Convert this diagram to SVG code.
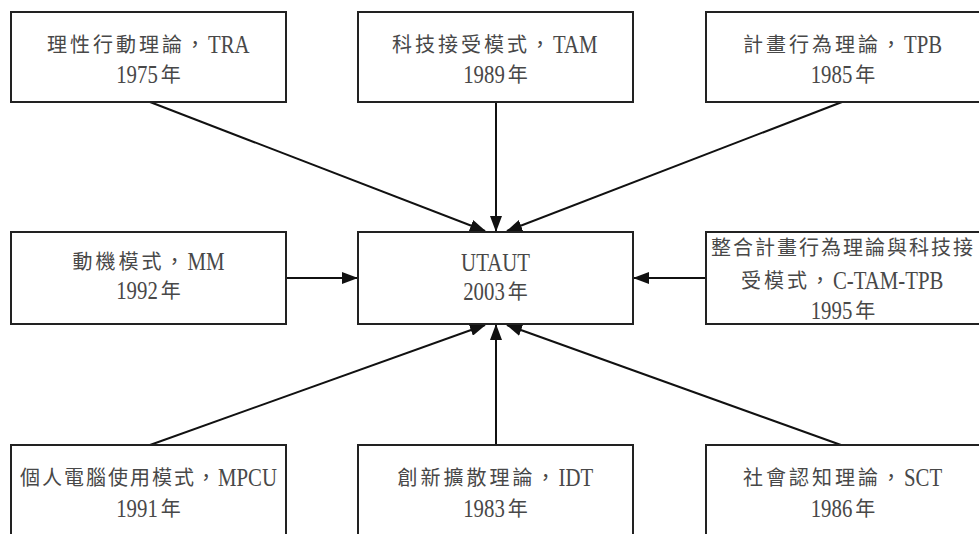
<svg xmlns="http://www.w3.org/2000/svg" width="979" height="534" viewBox="0 0 979 534">
<style>
.box{fill:#fff;stroke:#222;stroke-width:2}
.l{font-family:"Liberation Serif",serif;font-size:26px;fill:#484848}
.k{font-family:"Noto Sans CJK TC","Noto Sans CJK SC",sans-serif;font-size:20px;letter-spacing:3px;fill:#484848}
.e{text-anchor:end}
.m{text-anchor:middle}
.ln{stroke:#111;stroke-width:2;fill:none;marker-end:url(#ah)}
</style>
<defs>
<marker id="ah" markerUnits="userSpaceOnUse" markerWidth="16" markerHeight="12" refX="15" refY="6" orient="auto" viewBox="0 0 16 12">
<path d="M0,0 L16,6 L0,12 z" fill="#111"/>
</marker>
</defs>
<g id="connectors">
<line class="ln" x1="150" y1="102" x2="485" y2="231"/>
<line class="ln" x1="496" y1="102" x2="496" y2="231"/>
<line class="ln" x1="842" y1="102" x2="507" y2="231"/>
<line class="ln" x1="286" y1="278" x2="357" y2="278"/>
<line class="ln" x1="706" y1="278" x2="634" y2="278"/>
<line class="ln" x1="150" y1="445" x2="485" y2="325"/>
<line class="ln" x1="496" y1="445" x2="496" y2="325"/>
<line class="ln" x1="841" y1="445" x2="507" y2="325"/>
</g>
<g id="tra">
<rect class="box" x="11" y="12" width="275" height="90"/>
<text class="k e" x="208" y="52">理性行動理論，</text>
<text class="l" transform="translate(208,53) scale(0.8,1)">TRA</text>
<text class="l e" transform="translate(157.8,83) scale(0.8,1)">1975</text>
<text class="k" x="160.8" y="82">年</text>
</g>
<g id="tam">
<rect class="box" x="358" y="12" width="275" height="90"/>
<text class="k e" x="553" y="52">科技接受模式，</text>
<text class="l" transform="translate(553,53) scale(0.8,1)">TAM</text>
<text class="l e" transform="translate(504.8,83) scale(0.8,1)">1989</text>
<text class="k" x="507.8" y="82">年</text>
</g>
<g id="tpb">
<rect class="box" x="706" y="12" width="276" height="90"/>
<text class="k e" x="904" y="52">計畫行為理論，</text>
<text class="l" transform="translate(904,53) scale(0.8,1)">TPB</text>
<text class="l e" transform="translate(852.3,83) scale(0.8,1)">1985</text>
<text class="k" x="855.3" y="82">年</text>
</g>
<g id="mm">
<rect class="box" x="11" y="232" width="275" height="92"/>
<text class="k e" x="187.5" y="269">動機模式，</text>
<text class="l" transform="translate(187.5,270) scale(0.8,1)">MM</text>
<text class="l e" transform="translate(157.8,299) scale(0.8,1)">1992</text>
<text class="k" x="160.8" y="298">年</text>
</g>
<g id="utaut">
<rect class="box" x="358" y="232" width="275" height="92"/>
<text class="l m" transform="translate(495.5,271) scale(0.8,1)">UTAUT</text>
<text class="l e" transform="translate(504.8,300) scale(0.8,1)">2003</text>
<text class="k" x="507.8" y="299">年</text>
</g>
<g id="ctamtpb">
<rect class="box" x="706" y="232" width="276" height="92"/>
<text class="k m" x="843" y="255" style="letter-spacing:2px">整合計畫行為理論與科技接</text>
<text class="k e" x="833" y="288">受模式，</text>
<text class="l" transform="translate(833,289) scale(0.8,1)">C-TAM-TPB</text>
<text class="l e" transform="translate(852.3,319) scale(0.8,1)">1995</text>
<text class="k" x="855.3" y="318">年</text>
</g>
<g id="mpcu">
<rect class="box" x="11" y="445" width="275" height="100"/>
<text class="k e" x="218" y="485" style="letter-spacing:2px">個人電腦使用模式，</text>
<text class="l" transform="translate(218,486) scale(0.8,1)">MPCU</text>
<text class="l e" transform="translate(157.8,517) scale(0.8,1)">1991</text>
<text class="k" x="160.8" y="516">年</text>
</g>
<g id="idt">
<rect class="box" x="358" y="445" width="275" height="100"/>
<text class="k e" x="558.6" y="485">創新擴散理論，</text>
<text class="l" transform="translate(558.6,486) scale(0.8,1)">IDT</text>
<text class="l e" transform="translate(504.8,517) scale(0.8,1)">1983</text>
<text class="k" x="507.8" y="516">年</text>
</g>
<g id="sct">
<rect class="box" x="706" y="445" width="276" height="100"/>
<text class="k e" x="904" y="485">社會認知理論，</text>
<text class="l" transform="translate(904,486) scale(0.8,1)">SCT</text>
<text class="l e" transform="translate(852.3,517) scale(0.8,1)">1986</text>
<text class="k" x="855.3" y="516">年</text>
</g>
</svg>
